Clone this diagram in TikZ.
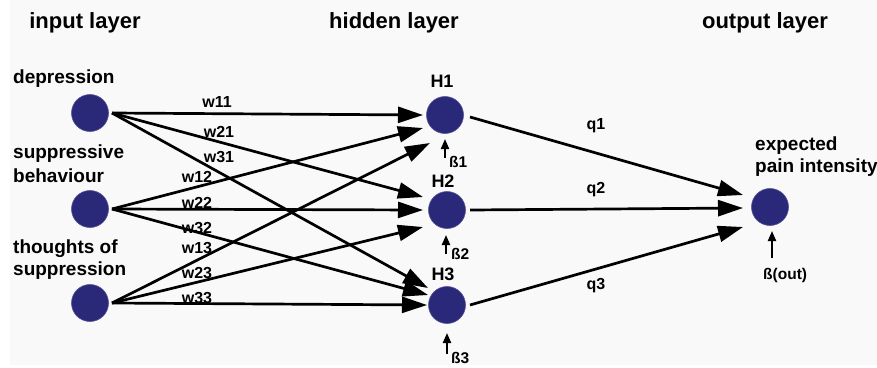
\documentclass[tikz,border=0pt]{standalone}
\usepackage{fontspec}
\setmainfont{Liberation Sans}
\usetikzlibrary{arrows.meta}
\definecolor{neuron}{RGB}{42,40,120}
\definecolor{bggray}{RGB}{249,249,249}
\begin{document}
\begin{tikzpicture}[x=1bp,y=-1bp,
  neu/.style={circle,fill=neuron,draw=neuron!80,line width=0.6bp,minimum size=37bp,inner sep=0pt},
  conn/.style={line width=2.7bp,-{Triangle[length=25bp,width=16bp]}},
  biasarr/.style={line width=2bp,-{Triangle[length=10bp,width=8bp]}},
  title/.style={font=\fontsize{22bp}{24bp}\selectfont\bfseries,anchor=base,inner sep=0pt},
  inlab/.style={font=\fontsize{19bp}{23bp}\selectfont\bfseries,anchor=base west,inner sep=0pt,align=left},
  wlab/.style={font=\fontsize{16bp}{17bp}\selectfont\bfseries,anchor=base,inner sep=0pt},
  hlab/.style={font=\fontsize{18bp}{19bp}\selectfont\bfseries,anchor=base,inner sep=0pt},
  blab/.style={font=\fontsize{15.5bp}{16bp}\selectfont\bfseries,anchor=base west,inner sep=0pt}]
\useasboundingbox (0,0) rectangle (877,367);
\fill[white] (0,0) rectangle (877,367);
\fill[bggray] (10,0) rectangle (877,365);

% titles
\node[title] (tin) at (85,28) {input layer};
\node[title] (thid) at (394,28) {hidden layer};
\node[title] (tout) at (765,28) {output layer};

% input labels
\node[inlab] (l1) at (13,83) {depression};
\node[inlab] (l2a) at (13,158) {suppressive};
\node[inlab] (l2b) at (13,182) {behaviour};
\node[inlab] (l3a) at (13,253) {thoughts of};
\node[inlab] (l3b) at (13,275) {suppression};
\node[inlab] (loa) at (755,150) {expected};
\node[inlab] (lob) at (755,172) {pain intensity};

% neurons
\node[neu] (I1) at (90,113) {};
\node[neu] (I2) at (90,209) {};
\node[neu] (I3) at (90,303) {};
\node[neu] (H1) at (445,115) {};
\node[neu] (H2) at (447,210) {};
\node[neu] (H3) at (447,305) {};
\node[neu] (O) at (770,207) {};

% start coordinates
\coordinate (s1) at (112,113);
\coordinate (s2) at (112,209);
\coordinate (s3) at (112,303);
\coordinate (sh1) at (470,117);
\coordinate (sh2) at (470,210);
\coordinate (sh3) at (470,305);
% end coordinates
\coordinate (e11) at (423,115);
\coordinate (e21) at (423,128);
\coordinate (e31) at (430,143);
\coordinate (e12) at (423,197);
\coordinate (e22) at (423,210);
\coordinate (e32) at (423,227);
\coordinate (e13) at (428,288);
\coordinate (e23) at (428,295);
\coordinate (e33) at (427,305);
\coordinate (eo1) at (743,195);
\coordinate (eo2) at (743,208);
\coordinate (eo3) at (743,227);

\draw[conn] (s1) -- (e11);
\draw[conn] (s2) -- (e21);
\draw[conn] (s3) -- (e31);
\draw[conn] (s1) -- (e12);
\draw[conn] (s2) -- (e22);
\draw[conn] (s3) -- (e32);
\draw[conn] (s1) -- (e13);
\draw[conn] (s2) -- (e23);
\draw[conn] (s3) -- (e33);
\draw[conn] (sh1) -- (eo1);
\draw[conn] (sh2) -- (eo2);
\draw[conn] (sh3) -- (eo3);

% weights
\node[wlab] (w11) at (217,107) {w11};
\node[wlab] (w21) at (219,137) {w21};
\node[wlab] (w31) at (219,162) {w31};
\node[wlab] (w12) at (197,182) {w12};
\node[wlab] (w22) at (197,208) {w22};
\node[wlab] (w32) at (197,233) {w32};
\node[wlab] (w13) at (197,253) {w13};
\node[wlab] (w23) at (197,278) {w23};
\node[wlab] (w33) at (197,303) {w33};
\node[wlab] (q1) at (596,129) {q1};
\node[wlab] (q2) at (596,193) {q2};
\node[wlab] (q3) at (596,289) {q3};

% hidden labels
\node[hlab] (hl1) at (442,87) {H1};
\node[hlab] (hl2) at (443,187) {H2};
\node[hlab] (hl3) at (443,280) {H3};

% biases
\coordinate (b1s) at (445,158);
\coordinate (b1e) at (445,139);
\coordinate (b2s) at (446,254);
\coordinate (b2e) at (446,235);
\coordinate (b3s) at (447,354);
\coordinate (b3e) at (447,333);
\coordinate (bos) at (772,258);
\coordinate (boe) at (772,231);
\draw[biasarr] (b1s) -- (b1e);
\draw[biasarr] (b2s) -- (b2e);
\draw[biasarr] (b3s) -- (b3e);
\draw[biasarr] (bos) -- (boe);
\node[blab] (bl1) at (449,167) {ß1};
\node[blab] (bl2) at (451,259) {ß2};
\node[blab] (bl3) at (451,363) {ß3};
\node[blab] (blo) at (763,279) {ß(out)};
\end{tikzpicture}
\end{document}
